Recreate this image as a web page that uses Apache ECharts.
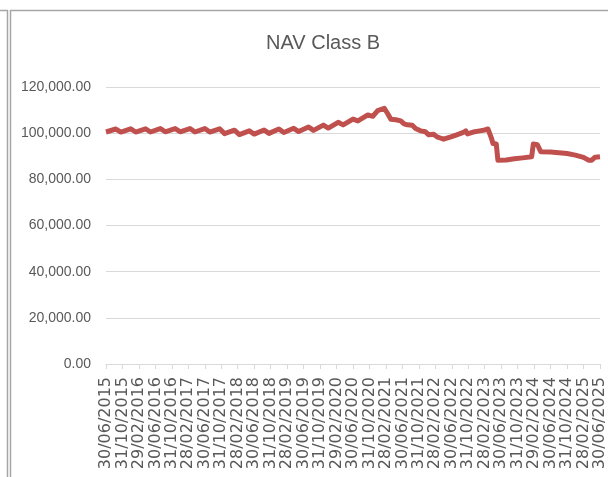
<!DOCTYPE html>
<html>
<head>
<meta charset="utf-8">
<script src="https://cdn.jsdelivr.net/npm/echarts@6/dist/echarts.min.js"></script>
<style>
  html, body { margin: 0; padding: 0; background: #fff; }
  #chart { width: 608px; height: 477px; }
</style>
</head>
<body>
<div id="chart"></div>
<script>
// date labels, one every 4 months
const dateLabels = [
  '30/06/2015', '31/10/2015', '29/02/2016', '30/06/2016', '31/10/2016', '28/02/2017',
  '30/06/2017', '31/10/2017', '28/02/2018', '30/06/2018', '31/10/2018', '28/02/2019',
  '30/06/2019', '31/10/2019', '29/02/2020', '30/06/2020', '31/10/2020', '28/02/2021',
  '30/06/2021', '31/10/2021', '28/02/2022', '30/06/2022', '31/10/2022', '28/02/2023',
  '30/06/2023', '31/10/2023', '29/02/2024', '30/06/2024', '31/10/2024', '28/02/2025',
  '30/06/2025'
]

// position of each NAV point, in label steps (0 = 30/06/2015)
const navPos = [
  0, 0.6, 0.9, 1.5, 1.8, 2.4, 2.7, 3.3, 3.6, 4.2, 4.5, 5.1, 5.4, 6.0, 6.3, 6.9,
  7.2, 7.8, 8.1, 8.7, 9.0, 9.6, 9.9, 10.5, 10.8, 11.4, 11.7, 12.3, 12.6, 13.2,
  13.5, 14.1, 14.4, 15.0, 15.3, 15.9, 16.2, 16.5, 16.9, 17.1, 17.3, 17.6, 17.9,
  18.1, 18.3, 18.6, 18.8, 19.1, 19.4, 19.6, 19.9, 20.1, 20.3, 20.5, 20.9, 21.3,
  21.7, 21.85, 21.95, 22.3, 22.7, 23.0, 23.2, 23.4, 23.5, 23.7, 23.8, 24.3, 24.8,
  25.3, 25.85, 25.95, 26.2, 26.4, 27.0, 27.5, 28.0, 28.5, 29.0, 29.3, 29.5, 29.7, 30
]
const navValues = [
  100500, 101800, 100500, 101900, 100500, 101900, 100500, 102000, 100600, 102000, 100600, 102000, 100500, 102000, 100500, 101900,
  99800, 101300, 99400, 101000, 99600, 101400, 99900, 101800, 100300, 102100, 100700, 102700, 101200, 103500,
  102200, 104700, 103600, 106100, 105300, 107900, 107300, 109800, 110800, 108500, 106000, 105800, 105300,
  104000, 103600, 103400, 102000, 101000, 100600, 99300, 99500, 98400, 97900, 97400, 98300, 99300,
  100300, 101000, 99700, 100500, 101000, 101400, 101800, 98000, 95500, 95300, 88300, 88400, 88900,
  89300, 89800, 95300, 95000, 92000, 91800, 91500, 91200, 90500, 89500, 88300, 88300, 89600, 89800
]

const yTicks = [0, 20000, 40000, 60000, 80000, 100000, 120000]

const grey = '#595959'
const labelFont = '"Liberation Sans", Arial, sans-serif'

const chart = echarts.init(document.getElementById('chart'))

chart.setOption({
  animation: false,
  title: {
    text: 'NAV Class B',
    left: 261,
    top: 28,
    textStyle: { fontFamily: labelFont, fontSize: 20, fontWeight: 'normal', color: grey }
  },
  grid: { left: 106, right: 1, top: 87, bottom: 113 },
  xAxis: [
    {
      type: 'category',
      data: dateLabels,
      boundaryGap: false,
      axisLine: { lineStyle: { color: '#d9d9d9', width: 1 } },
      axisTick: { show: true, interval: 0, length: 5, lineStyle: { color: '#d9d9d9' } },
      axisLabel: {
        interval: 0,
        rotate: 90,
        margin: 13,
        fontFamily: 'DejaVu Sans',
        fontSize: 16,
        color: grey
      },
      splitLine: { show: false }
    },
    {
      type: 'value',
      min: 0,
      max: dateLabels.length - 1,
      show: false
    }
  ],
  yAxis: {
    type: 'value',
    min: yTicks[0],
    max: yTicks[yTicks.length - 1],
    interval: 20000,
    axisLine: { show: false },
    axisTick: { show: false },
    axisLabel: {
      margin: 15,
      fontFamily: labelFont,
      fontSize: 14,
      color: grey,
      formatter: v => v.toLocaleString('en-US', { minimumFractionDigits: 2, maximumFractionDigits: 2 })
    },
    splitLine: { lineStyle: { color: '#d9d9d9', width: 1 } }
  },
  series: [
    {
      name: 'NAV Class B',
      type: 'line',
      xAxisIndex: 1,
      symbol: 'none',
      lineStyle: { color: '#c0504d', width: 5, join: 'round' },
      data: navPos.map((p, i) => [p, navValues[i]])
    }
  ],
  graphic: [
    { type: 'line', shape: { x1: 0, y1: 10.5, x2: 8, y2: 10.5 }, style: { stroke: '#a6a6a6', lineWidth: 1.5 } },
    { type: 'line', shape: { x1: 10, y1: 10.5, x2: 608, y2: 10.5 }, style: { stroke: '#a6a6a6', lineWidth: 1.5 } },
    { type: 'line', shape: { x1: 7.5, y1: 10, x2: 7.5, y2: 477 }, style: { stroke: '#a6a6a6', lineWidth: 1.5 } },
    { type: 'line', shape: { x1: 10.5, y1: 10, x2: 10.5, y2: 477 }, style: { stroke: '#a6a6a6', lineWidth: 1.5 } }
  ]
})
</script>
</body>
</html>
